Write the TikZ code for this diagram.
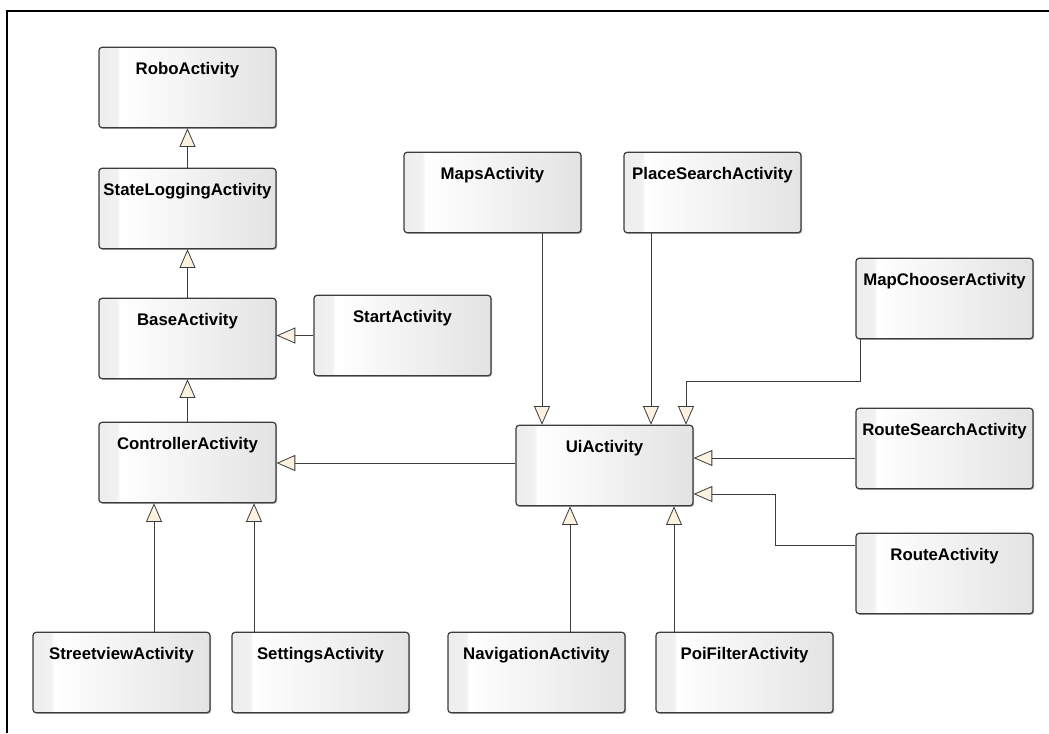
\documentclass[tikz,border=0pt]{standalone}
\usepackage{fontspec}
\setmainfont{Liberation Sans}
\usetikzlibrary{arrows.meta,shadows}
\definecolor{tipfill}{HTML}{FDF1DF}
\definecolor{edgegray}{HTML}{3C3C3C}
\pgfdeclarehorizontalshading{classshade}{100bp}{color(0bp)=(gray!14); color(25bp)=(gray!14); color(30bp)=(gray!11); color(31bp)=(white); color(75bp)=(gray!22); color(100bp)=(gray!22)}

\begin{document}
\begin{tikzpicture}[x=0.75pt,y=-0.75pt,
    cls/.style={draw=edgegray, line width=0.9pt, rounded corners=2.25pt, shading=classshade,
      drop shadow={shadow xshift=0.9pt, shadow yshift=-0.9pt, fill=gray!70, opacity=0.8},
      minimum width=132.75pt, inner ysep=11.5pt, text height=9pt, text depth=28.25pt,
      font=\bfseries\fontsize{12.6}{14}\selectfont},
    gen/.style={draw=edgegray, line width=0.7pt, -{Triangle[length=14pt,width=12pt,fill=tipfill,line width=0.6pt]}}]
            \useasboundingbox (0,0) rectangle (1049,733);
            \draw [line width=1.1pt] (1049,11) -- (7,11) -- (7,733);
            \node [cls] (robo) at (187.5,87.5) {RoboActivity};
            \node [cls] (statelog) at (187.5,208.5) {StateLoggingActivity};
            \node [cls] (base) at (187.5,338.5) {BaseActivity};
            \node [cls] (start) at (402.5,335.5) {StartActivity};
            \node [cls] (controller) at (187.5,462.5) {ControllerActivity};
            \node [cls] (maps) at (492.5,192.5) {MapsActivity};
            \node [cls] (placesearch) at (712.5,192.5) {PlaceSearchActivity};
            \node [cls] (mapchooser) at (944.5,298.5) {MapChooserActivity};
            \node [cls] (ui) at (604.5,465.5) {UiActivity};
            \node [cls] (routesearch) at (944.5,448.5) {RouteSearchActivity};
            \node [cls] (route) at (944.5,573.5) {RouteActivity};
            \node [cls] (streetview) at (121.5,672.5) {StreetviewActivity};
            \node [cls] (settings) at (320.5,672.5) {SettingsActivity};
            \node [cls] (navigation) at (536.5,672.5) {NavigationActivity};
            \node [cls] (poifilter) at (744.5,672.5) {PoiFilterActivity};
            \draw [gen] (statelog) -- (robo);
            \draw [gen] (base) -- (statelog);
            \draw [gen] (controller) -- (base);
            \draw [gen] (start.west) -- (start.west -| base.east);
            \draw [gen] (ui.west |- 0,463) -- (controller.east |- 0,463);
            \draw [gen] (maps.south -| 542,0) -- (ui.north -| 542,0);
            \draw [gen] (placesearch.south -| 651,0) -- (ui.north -| 651,0);
            \draw [gen] (mapchooser.south -| 860,0) |- (686,381) -- (ui.north -| 686,0);
            \draw [gen] (routesearch.west |- 0,458) -- (ui.east |- 0,458);
            \draw [gen] (route.west |- 0,545) -| (775,494) -- (ui.east |- 0,494);
            \draw [gen] (streetview.north -| 154,0) -- (controller.south -| 154,0);
            \draw [gen] (settings.north -| 254,0) -- (controller.south -| 254,0);
            \draw [gen] (navigation.north -| 570,0) -- (ui.south -| 570,0);
            \draw [gen] (poifilter.north -| 674,0) -- (ui.south -| 674,0);
        \end{tikzpicture}
\end{document}
